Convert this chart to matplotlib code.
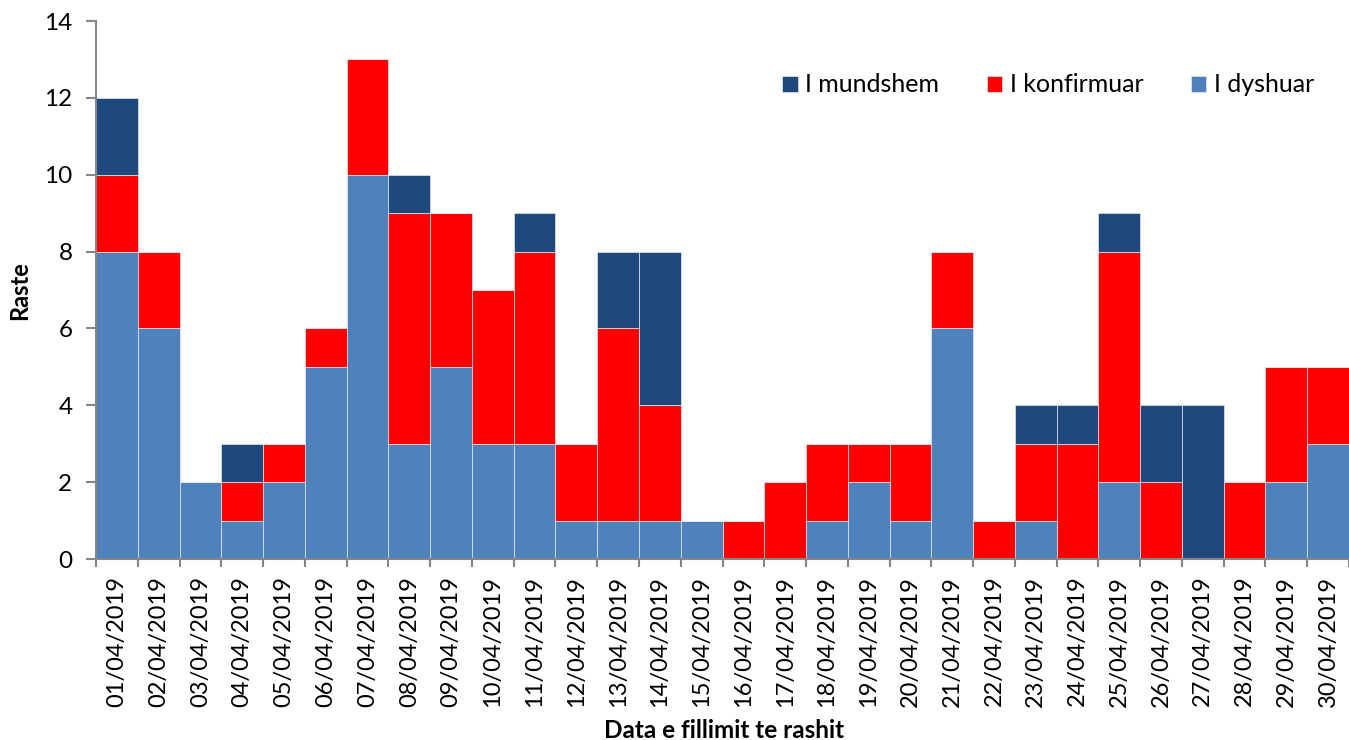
import matplotlib.pyplot as plt
import numpy as np

plt.rcParams['font.family'] = ['Lato', 'DejaVu Sans']

# dates of rash onset, April 2019
dates = ["%02d/04/2019" % d for d in range(1, 31)]

# cases per day by classification
dyshuar = [8, 6, 2, 1, 2, 5, 10, 3, 5, 3, 3, 1, 1, 1, 1,
           0, 0, 1, 2, 1, 6, 0, 1, 0, 2, 0, 0, 0, 2, 3]
konfirmuar = [2, 2, 0, 1, 1, 1, 3, 6, 4, 4, 5, 2, 5, 3, 0,
              1, 2, 2, 1, 2, 2, 1, 2, 3, 6, 2, 0, 2, 3, 2]
mundshem = [2, 0, 0, 1, 0, 0, 0, 1, 0, 0, 1, 0, 2, 4, 0,
            0, 0, 0, 0, 0, 0, 0, 1, 1, 1, 2, 4, 0, 0, 0]

c_dysh = '#4F81BD'
c_konf = '#FF0000'
c_mund = '#1F497D'

fig = plt.figure(figsize=(13.49, 7.40), dpi=100)
ax = fig.add_axes([96 / 1349, 1 - 559 / 740, 1 - 96 / 1349, (559 - 21) / 740])

x = np.arange(len(dates))
d = np.array(dyshuar)
k = np.array(konfirmuar)
m = np.array(mundshem)

ax.bar(x, d, width=1.0, color=c_dysh, edgecolor='#e4e9f0', linewidth=0.5, label='I dyshuar')
ax.bar(x, k, width=1.0, bottom=d, color=c_konf, edgecolor='#e4e9f0', linewidth=0.5, label='I konfirmuar')
ax.bar(x, m, width=1.0, bottom=d + k, color=c_mund, edgecolor='#e4e9f0', linewidth=0.5, label='I mundshem')

ax.set_xlim(-0.5, len(dates) - 0.5)
ax.set_ylim(0, 14)
ax.set_yticks(range(0, 15, 2))

# ticks sit between categories, labels centred on bars
ax.set_xticks(np.arange(-0.5, len(dates) - 0.5 + 0.01, 1.0))
ax.set_xticklabels([])
ax.set_xticks(x, minor=True)
ax.set_xticklabels(dates, minor=True, rotation=90, fontsize=17)
ax.tick_params(axis='x', which='minor', length=0, pad=12)
ax.tick_params(axis='x', which='major', length=6, width=1.5, color='#868686')
ax.tick_params(axis='y', length=7, width=1.5, color='#868686', labelsize=17.5, pad=10)

for s in ['top', 'right']:
    ax.spines[s].set_visible(False)
for s in ['left', 'bottom']:
    ax.spines[s].set_color('#868686')
    ax.spines[s].set_linewidth(1.5)

ax.set_ylabel('Raste', fontsize=17, fontweight='bold', va='center')
ax.yaxis.set_label_coords((20 - 96) / 1253, (559 - 291) / 538)
ax.set_xlabel('Data e fillimit te rashit', fontsize=17.5, fontweight='bold', va='center')
ax.xaxis.set_label_coords((724 - 96) / 1253, (559 - 730) / 538)

h, l = ax.get_legend_handles_labels()
ax.legend(h[::-1], l[::-1], ncol=3, loc='center right', bbox_to_anchor=(0.99, (559 - 85) / 538),
          frameon=False, fontsize=18, handlelength=0.62, handleheight=0.62,
          handletextpad=0.3, columnspacing=1.9)

fig.savefig('out.png', dpi=100)
